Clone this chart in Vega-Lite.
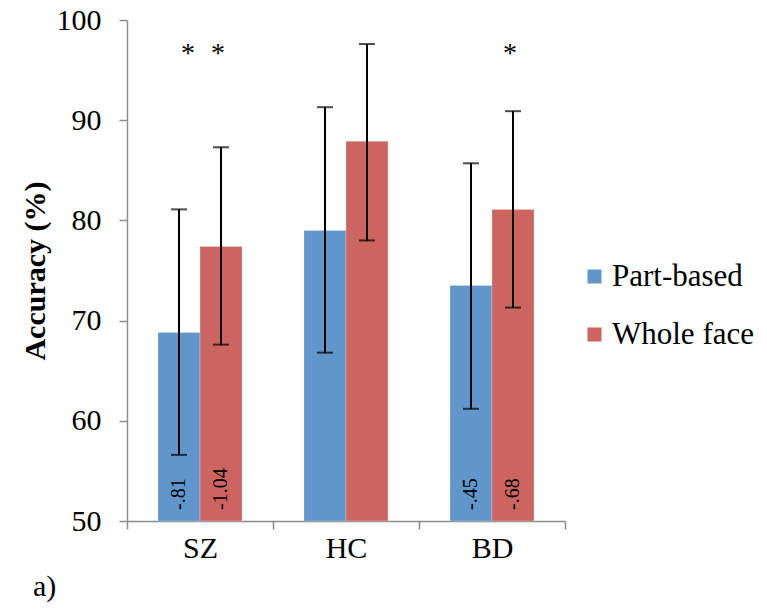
{
  "$schema": "https://vega.github.io/schema/vega-lite/v6.json",
  "autosize": {"type": "none"},
  "padding": {"left": 127, "top": 20, "right": 202, "bottom": 91},
  "width": 438,
  "height": 501,
  "background": "white",
  "title": {"text": "a)", "orient": "bottom", "anchor": "start", "frame": "group", "dx": -94, "offset": 9, "font": "Liberation Serif", "fontSize": 30, "fontWeight": "normal", "color": "black"},
  "config": {
    "view": {"stroke": null},
    "font": "Liberation Serif"
  },
  "data": {"values": [
    {"group": "SZ", "cond": "Part-based", "acc": 68.8, "lo": 56.6, "hi": 81.1, "d": "-.81", "star": "*"},
    {"group": "SZ", "cond": "Whole face", "acc": 77.4, "lo": 67.6, "hi": 87.3, "d": "-1.04", "star": "*"},
    {"group": "HC", "cond": "Part-based", "acc": 79.0, "lo": 66.8, "hi": 91.3, "d": "", "star": ""},
    {"group": "HC", "cond": "Whole face", "acc": 87.9, "lo": 78.0, "hi": 97.6, "d": "", "star": ""},
    {"group": "BD", "cond": "Part-based", "acc": 73.5, "lo": 61.2, "hi": 85.7, "d": "-.45", "star": ""},
    {"group": "BD", "cond": "Whole face", "acc": 81.1, "lo": 71.3, "hi": 90.9, "d": "-.68", "star": "*"}
  ]},
  "encoding": {
    "x": {
      "field": "group", "type": "nominal", "sort": ["SZ", "HC", "BD"],
      "scale": {"paddingInner": 0, "paddingOuter": 0},
      "axis": {
        "title": null, "labelAngle": 0, "labelFontSize": 30, "labelColor": "black",
        "labelFont": "Liberation Serif", "labelPadding": 4,
        "domainColor": "#8c8c8c", "domainWidth": 1.5, "tickColor": "#8c8c8c", "tickWidth": 1.5, "tickSize": 8,
        "tickBand": "extent", "grid": false
      }
    },
    "xOffset": {"field": "cond", "type": "nominal", "scale": {"paddingInner": 0, "paddingOuter": 0.738}}
  },
  "layer": [
    {
      "mark": {"type": "bar", "stroke": "white", "strokeWidth": 0.5, "strokeOpacity": 0.5},
      "encoding": {
        "y": {
          "field": "acc", "type": "quantitative",
          "scale": {"domain": [50, 100], "zero": false, "nice": false},
          "axis": {
            "title": "Accuracy (%)", "titleFontSize": 30, "titleFontWeight": "bold", "titleColor": "black",
            "titleFont": "Liberation Serif", "titlePadding": 6,
            "values": [50, 60, 70, 80, 90, 100],
            "labelFontSize": 30, "labelColor": "black", "labelFont": "Liberation Serif", "labelPadding": 18,
            "domainColor": "#8c8c8c", "domainWidth": 1.5, "tickColor": "#8c8c8c", "tickWidth": 1.5, "tickSize": 8,
            "grid": false
          }
        },
        "y2": {"datum": 50},
        "color": {
          "field": "cond", "type": "nominal",
          "scale": {"domain": ["Part-based", "Whole face"], "range": ["#6096c9", "#cc6560"]},
          "legend": {
            "title": null, "orient": "none", "legendX": 452, "legendY": 241,
            "symbolType": "square", "symbolSize": 196, "symbolStrokeWidth": 0,
            "labelFontSize": 31, "labelFont": "Liberation Serif", "labelColor": "black",
            "labelOffset": 2, "rowPadding": 26, "labelLimit": 300
          }
        }
      }
    },
    {
      "mark": {"type": "rule", "color": "black", "strokeWidth": 2},
      "encoding": {
        "y": {"field": "lo", "type": "quantitative"},
        "y2": {"field": "hi"}
      }
    },
    {
      "mark": {"type": "tick", "color": "black", "thickness": 2, "size": 16},
      "encoding": {"y": {"field": "lo", "type": "quantitative"}}
    },
    {
      "mark": {"type": "tick", "color": "black", "thickness": 2, "size": 16},
      "encoding": {"y": {"field": "hi", "type": "quantitative"}}
    },
    {
      "mark": {"type": "text", "angle": 270, "align": "left", "baseline": "middle", "dx": 11, "fontSize": 20, "font": "Liberation Serif", "color": "black"},
      "encoding": {
        "y": {"datum": 50},
        "text": {"field": "d"}
      }
    },
    {
      "transform": [{"filter": "datum.cond == 'Part-based'"}],
      "mark": {"type": "text", "baseline": "alphabetic", "align": "center", "dx": 9, "fontSize": 28, "font": "Liberation Serif", "color": "black"},
      "encoding": {
        "y": {"datum": 95.8},
        "text": {"field": "star"}
      }
    },
    {
      "transform": [{"filter": "datum.cond == 'Whole face'"}],
      "mark": {"type": "text", "baseline": "alphabetic", "align": "center", "dx": -3, "fontSize": 28, "font": "Liberation Serif", "color": "black"},
      "encoding": {
        "y": {"datum": 95.8},
        "text": {"field": "star"}
      }
    }
  ]
}
